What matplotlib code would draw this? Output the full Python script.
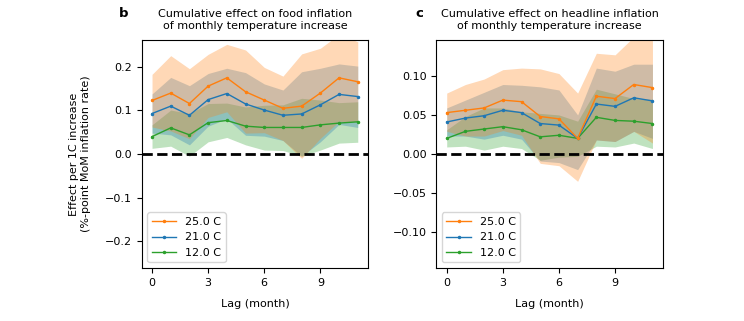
import matplotlib
matplotlib.use("Agg")
import matplotlib.pyplot as plt

lags = list(range(12))
temps = ["25.0 C", "21.0 C", "12.0 C"]
colors = ["tab:orange", "tab:blue", "tab:green"]

# panel b: food inflation (line, upper, lower)
food_25 = [0.123, 0.140, 0.116, 0.156, 0.175, 0.143, 0.124, 0.105, 0.110, 0.140, 0.175, 0.166]
food_25_hi = [0.183, 0.226, 0.196, 0.229, 0.252, 0.239, 0.199, 0.179, 0.230, 0.243, 0.275, 0.258]
food_25_lo = [0.062, 0.053, 0.035, 0.084, 0.097, 0.048, 0.049, 0.031, -0.010, 0.036, 0.075, 0.074]
food_21 = [0.093, 0.110, 0.089, 0.125, 0.139, 0.115, 0.101, 0.089, 0.092, 0.113, 0.137, 0.132]
food_21_hi = [0.138, 0.176, 0.157, 0.185, 0.197, 0.187, 0.161, 0.147, 0.189, 0.197, 0.207, 0.202]
food_21_lo = [0.048, 0.044, 0.021, 0.064, 0.081, 0.043, 0.041, 0.031, -0.005, 0.028, 0.068, 0.061]
food_12 = [0.040, 0.060, 0.044, 0.072, 0.077, 0.064, 0.061, 0.061, 0.061, 0.067, 0.071, 0.074]
food_12_hi = [0.067, 0.101, 0.093, 0.116, 0.117, 0.108, 0.112, 0.113, 0.128, 0.124, 0.118, 0.120]
food_12_lo = [0.013, 0.018, -0.005, 0.028, 0.038, 0.021, 0.009, 0.008, -0.005, 0.009, 0.025, 0.027]

# panel c: headline inflation
head_25 = [0.053, 0.056, 0.059, 0.069, 0.067, 0.048, 0.045, 0.020, 0.074, 0.071, 0.089, 0.085]
head_25_hi = [0.078, 0.089, 0.096, 0.108, 0.110, 0.109, 0.103, 0.078, 0.129, 0.127, 0.150, 0.155]
head_25_lo = [0.029, 0.023, 0.023, 0.030, 0.024, -0.012, -0.015, -0.035, 0.018, 0.016, 0.029, 0.014]
head_21 = [0.041, 0.046, 0.049, 0.056, 0.053, 0.039, 0.037, 0.020, 0.064, 0.061, 0.072, 0.068]
head_21_hi = [0.059, 0.069, 0.079, 0.089, 0.088, 0.086, 0.082, 0.050, 0.110, 0.106, 0.115, 0.115]
head_21_lo = [0.023, 0.023, 0.019, 0.024, 0.019, -0.009, -0.011, -0.020, 0.018, 0.016, 0.029, 0.020]
head_12 = [0.020, 0.029, 0.032, 0.035, 0.031, 0.022, 0.024, 0.020, 0.047, 0.043, 0.042, 0.039]
head_12_hi = [0.031, 0.048, 0.059, 0.059, 0.054, 0.052, 0.050, 0.042, 0.083, 0.077, 0.071, 0.070]
head_12_lo = [0.009, 0.010, 0.005, 0.010, 0.007, -0.008, -0.004, -0.003, 0.010, 0.009, 0.014, 0.007]

plt.rcParams["font.size"] = 8

fig = plt.figure(figsize=(7.44, 3.21), dpi=100)
ax_b = fig.add_axes([0.1905, 0.1651, 0.3042, 0.7103])
ax_c = fig.add_axes([0.5866, 0.1651, 0.3042, 0.7103])


def draw_panel(ax, series, letter, title, ylim):
    handles = []
    # coolest drawn first, warmest on top
    for (mid, hi, lo), name, col in reversed(list(zip(series, temps, colors))):
        ax.fill_between(lags, lo, hi, color=col, alpha=0.3, linewidth=0)
        ln, = ax.plot(lags, mid, color=col, marker=".", markersize=3, linewidth=1, label=name)
        handles.insert(0, ln)
    ax.axhline(0, color="black", linestyle="--", linewidth=2)
    ax.set_ylim(ylim)
    ax.set_xticks([0, 3, 6, 9])
    ax.set_xlabel("Lag (month)", labelpad=8)
    ax.set_title(title, fontsize=8, pad=8)
    ax.text(-0.06, 1.118, letter, transform=ax.transAxes, fontsize=9.5,
            fontweight="bold", va="center", ha="right")
    ax.legend(handles=handles, loc="lower left", fontsize=8, handlelength=2.2)


draw_panel(ax_b,
           [(food_25, food_25_hi, food_25_lo),
            (food_21, food_21_hi, food_21_lo),
            (food_12, food_12_hi, food_12_lo)],
           "b", "Cumulative effect on food inflation\nof monthly temperature increase",
           (-0.262, 0.262))
ax_b.set_ylabel("Effect per 1C increase\n(%-point MoM inflation rate)", labelpad=10)

draw_panel(ax_c,
           [(head_25, head_25_hi, head_25_lo),
            (head_21, head_21_hi, head_21_lo),
            (head_12, head_12_hi, head_12_lo)],
           "c", "Cumulative effect on headline inflation\nof monthly temperature increase",
           (-0.146, 0.146))
ax_c.set_yticks([-0.10, -0.05, 0.0, 0.05, 0.10])

fig.savefig("out.png", dpi=100)
